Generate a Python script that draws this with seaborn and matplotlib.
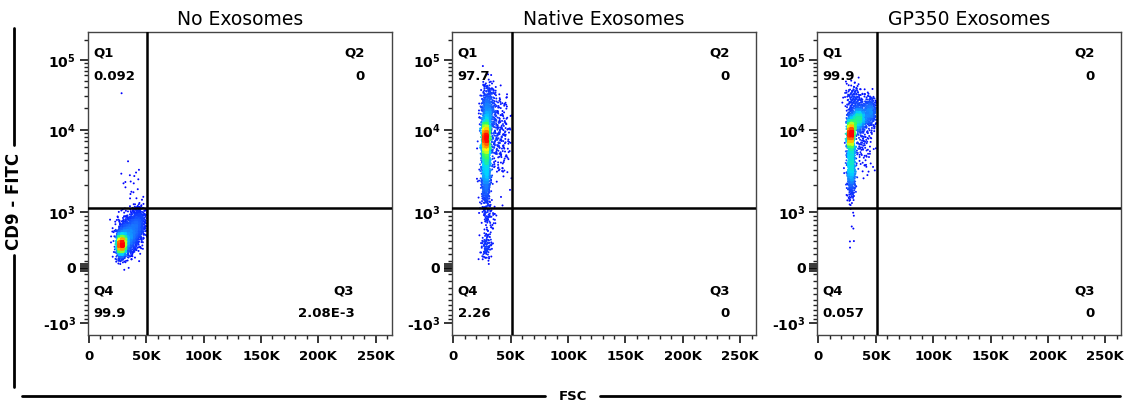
import numpy as np
import pandas as pd
import matplotlib
matplotlib.use("Agg")
import matplotlib.pyplot as plt
import seaborn as sns
from matplotlib.colors import LinearSegmentedColormap
from matplotlib.lines import Line2D
from statistics import NormalDist

# ------------------------------------------------------------------ data
PANEL_TITLES = ["No Exosomes", "Native Exosomes", "GP350 Exosomes"]
Q1_VALUES = ["0.092", "97.7", "99.9"]
Q2_VALUES = ["0", "0", "0"]
Q3_VALUES = ["2.08E-3", "0", "0"]
Q4_VALUES = ["99.9", "2.26", "0.057"]
FSC_GATE = 51000
CD9_GATE = 1100

X_TICKS = [0, 50000, 100000, 150000, 200000, 250000]
X_TICK_LABELS = ["0", "50K", "100K", "150K", "200K", "250K"]
Y_TICKS = [-1000, 0, 1000, 10000, 100000]
Y_TICK_LABELS = ["-" + r"$\mathbf{10^{3}}$", "0", r"$\mathbf{10^{3}}$",
                 r"$\mathbf{10^{4}}$", r"$\mathbf{10^{5}}$"]

# event populations estimated from each dot plot:
# FSC centre, CD9 centre, FSC spread, CD9 spread (fraction of axis height), events
NOEXO_FSC = [28000, 33000, 41000, 44000, 37000, 28500]
NOEXO_CD9 = [340, 460, 650, 850, 2200, 33000]
NOEXO_FSC_SD = [1700, 4500, 4500, 3000, 5000, 0]
NOEXO_CD9_SD = [0.02, 0.03, 0.03, 0.025, 0.035, 0]
NOEXO_N = [1300, 1000, 550, 150, 16, 1]

NATIVE_FSC = [28000, 28500, 30000, 38000, 30500, 29000]
NATIVE_CD9 = [8000, 3500, 20000, 9000, 900, 320]
NATIVE_FSC_SD = [1500, 2000, 3000, 6500, 3500, 2500]
NATIVE_CD9_SD = [0.035, 0.07, 0.04, 0.07, 0.025, 0.025]
NATIVE_N = [900, 1000, 400, 380, 60, 100]

GP350_FSC = [28000, 28500, 35000, 45000, 31000, 38000, 30000]
GP350_CD9 = [9000, 3500, 14500, 18000, 28000, 7000, 500]
GP350_FSC_SD = [1500, 1700, 2800, 3300, 4000, 5000, 3000]
GP350_CD9_SD = [0.03, 0.05, 0.022, 0.026, 0.025, 0.05, 0.03]
GP350_N = [1100, 900, 550, 380, 150, 150, 6]

POPULATIONS = [
    (NOEXO_FSC, NOEXO_CD9, NOEXO_FSC_SD, NOEXO_CD9_SD, NOEXO_N),
    (NATIVE_FSC, NATIVE_CD9, NATIVE_FSC_SD, NATIVE_CD9_SD, NATIVE_N),
    (GP350_FSC, GP350_CD9, GP350_FSC_SD, GP350_CD9_SD, GP350_N),
]

# ------------------------------------------------------------------ logicle scale (T=262144, M=4.5, W=1)
T, M, W = 262144.0, 4.5, 1.0
LN10 = np.log(10.0)
w_nat, m_nat = W * LN10, M * LN10
lo, hi = 1.0001, 100.0
for _ in range(200):
    mid = 0.5 * (lo + hi)
    if 2 * mid * np.log(mid) / (mid + 1) > w_nat:
        hi = mid
    else:
        lo = mid
P = 0.5 * (lo + hi)
K = T * np.exp(-(m_nat - w_nat))
F_TAB = np.linspace(-0.3, 1.3, 40001)
_d = F_TAB * m_nat - w_nat
_a = np.abs(_d)
S_TAB = np.sign(_d) * K * (np.exp(_a) - P * P * np.exp(-_a / P) + P * P - 1)


def logicle_fwd(y):
    return np.interp(np.asarray(y, dtype=float), S_TAB, F_TAB)


def logicle_inv(f):
    return np.interp(np.asarray(f, dtype=float), F_TAB, S_TAB)


YLIM = (float(logicle_inv(0.0)), float(logicle_inv(1.0)))
XLIM = (-1000, 264000)

# ------------------------------------------------------------------ events (deterministic low-discrepancy placement)
PLASTIC = 1.324717957244746
GENERATORS = [(1 / PLASTIC, 1 / PLASTIC ** 2),
              (np.sqrt(2) - 1, np.sqrt(3) - 1),
              (np.sqrt(7) - 2, np.sqrt(11) - 3)]
ND = NormalDist()


def events(fsc, cd9, fsd, csd, ns, start):
    xs, ys = [], []
    idx = start
    for fc, cc, fs, cs, n in zip(fsc, cd9, fsd, csd, ns):
        parts = [n - 2 * (n // 3), n // 3, n // 3]
        for (g1, g2), npart in zip(GENERATORS, parts):
            if npart <= 0:
                continue
            i = np.arange(idx, idx + npart)
            idx += npart
            u = np.clip((0.5 + i * g1) % 1, 1e-4, 1 - 1e-4)
            v = np.clip((0.5 + i * g2) % 1, 1e-4, 1 - 1e-4)
            zu = np.array([ND.inv_cdf(t) for t in u])
            zv = np.array([ND.inv_cdf(t) for t in v])
            xs.append(fc + fs * zu)
            ys.append(logicle_inv(logicle_fwd(cc) + cs * zv))
    x = np.concatenate(xs)
    y = np.concatenate(ys)
    keep = (x < 50700) & (x > 8000)
    return x[keep], y[keep]


cmap = LinearSegmentedColormap.from_list(
    "flowjo",
    [(0.0, "#0000ff"), (0.3, "#1a6cff"), (0.5, "#00d8ff"),
     (0.65, "#30ff60"), (0.8, "#ffff00"), (0.92, "#ff8000"), (1.0, "#ff0000")])


def density(x, y):
    xd = (x - XLIM[0]) / (XLIM[1] - XLIM[0])
    yd = logicle_fwd(y)
    nb = 110
    H, xe, ye = np.histogram2d(xd, yd, bins=nb, range=[[0, 1], [0, 1]])
    Hp = np.pad(H, 1)
    Hs = sum(Hp[1 + dx:1 + dx + nb, 1 + dy:1 + dy + nb] for dx in (-1, 0, 1) for dy in (-1, 0, 1))
    ix = np.clip((xd * nb).astype(int), 0, nb - 1)
    iy = np.clip((yd * nb).astype(int), 0, nb - 1)
    d = Hs[ix, iy]
    return (d / d.max()) ** 0.8


# ------------------------------------------------------------------ figure
sns.set_style("ticks")
plt.rcParams["font.family"] = ["DejaVu Sans"]
plt.rcParams["mathtext.fontset"] = "dejavusans"
plt.rcParams["axes.unicode_minus"] = False
for key in ("text.color", "axes.labelcolor", "xtick.color", "ytick.color", "axes.edgecolor"):
    plt.rcParams[key] = "black"

fig = plt.figure(figsize=(11.25, 4.08), dpi=100)
lefts = [0.078, 0.402, 0.7265]
start = 1
for k in range(3):
    ax = fig.add_axes([lefts[k], 0.179, 0.2702, 0.7434])
    ax.set_yscale("function", functions=(logicle_fwd, logicle_inv))
    x, y = events(*POPULATIONS[k], start)
    start += 20000
    c = density(x, y)
    df = pd.DataFrame({"FSC": x, "CD9": y, "dens": c}).sort_values("dens")
    sns.scatterplot(data=df, x="FSC", y="CD9", hue="dens", palette=cmap,
                    hue_norm=(0, 1), s=2.0, linewidth=0, marker="o",
                    legend=False, ax=ax)
    ax.set_xlim(*XLIM)
    ax.set_ylim(*YLIM)
    ax.axvline(FSC_GATE, color="black", lw=1.8, zorder=5)
    ax.axhline(CD9_GATE, color="black", lw=1.8, zorder=5)

    ax.set_xticks(X_TICKS)
    ax.set_xticklabels(X_TICK_LABELS, fontweight="bold", fontsize=9.5)
    ax.set_xticks(np.arange(10000, 264000, 10000), minor=True)
    ax.set_yticks(Y_TICKS + [-50, -25, 25, 50])
    ax.set_yticklabels(Y_TICK_LABELS + ["", "", "", ""], fontsize=10, fontweight="bold")
    yminor = ([-v for v in range(100, 1000, 100)] + list(range(100, 1000, 100)) +
              list(range(2000, 10000, 1000)) + list(range(20000, 100000, 10000)) + [200000])
    ax.set_yticks(yminor, minor=True)
    ax.tick_params(axis="both", which="major", direction="out", length=5.5, width=1.1,
                   color="black")
    ax.tick_params(axis="both", which="minor", direction="out", length=3.2, width=1.0,
                   color="#222222")
    ax.tick_params(axis="x", which="major", pad=5)
    ax.tick_params(axis="y", which="major", pad=3)
    for sp in ax.spines.values():
        sp.set_color("#444444")
        sp.set_linewidth(1.0)
    ax.set_xlabel("")
    ax.set_ylabel("")
    ax.set_title(PANEL_TITLES[k], fontsize=13.5, pad=5, color="black")

    q3x = 0.877 if k == 0 else 0.912
    kw = dict(transform=ax.transAxes, fontsize=9.5, fontweight="bold", va="center",
              color="black")
    ax.text(0.018, 0.929, "Q1", ha="left", **kw)
    ax.text(0.018, 0.852, Q1_VALUES[k], ha="left", **kw)
    ax.text(0.912, 0.929, "Q2", ha="right", **kw)
    ax.text(0.912, 0.852, Q2_VALUES[k], ha="right", **kw)
    ax.text(0.018, 0.146, "Q4", ha="left", **kw)
    ax.text(0.018, 0.0715, Q4_VALUES[k], ha="left", **kw)
    ax.text(q3x, 0.146, "Q3", ha="right", **kw)
    ax.text(q3x, 0.0715, Q3_VALUES[k], ha="right", **kw)

# outer axis labels with FlowJo-style rules
fig.text(14 / 1125, 1 - 201 / 408, "CD9 - FITC", rotation=90, ha="center", va="center",
         fontsize=12, fontweight="bold", color="black")
fig.add_artist(Line2D([14 / 1125, 14 / 1125], [1 - 28 / 408, 1 - 145 / 408], color="black", lw=2))
fig.add_artist(Line2D([14 / 1125, 14 / 1125], [1 - 255 / 408, 1 - 387 / 408], color="black", lw=2))
fig.text(573 / 1125, 1 - 397 / 408, "FSC", ha="center", va="center", fontsize=9.5,
         fontweight="bold", color="black")
fig.add_artist(Line2D([22 / 1125, 545 / 1125], [1 - 396 / 408, 1 - 396 / 408], color="black", lw=2))
fig.add_artist(Line2D([600 / 1125, 1120 / 1125], [1 - 396 / 408, 1 - 396 / 408], color="black", lw=2))

fig.savefig("out.png", dpi=100)
